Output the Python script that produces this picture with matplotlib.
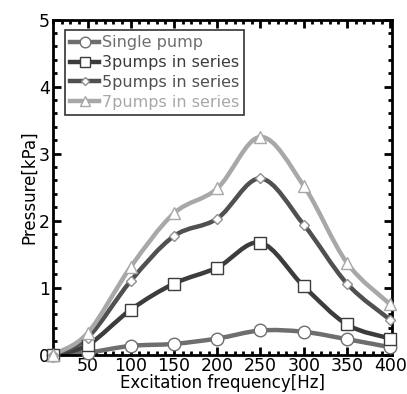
import numpy as np
import matplotlib
matplotlib.use("Agg")
import matplotlib.pyplot as plt
from matplotlib.path import Path
from matplotlib.patches import PathPatch
from matplotlib.lines import Line2D
from matplotlib.ticker import MultipleLocator

freq = [10, 50, 100, 150, 200, 250, 300, 350, 400]
single = [0.0, 0.03, 0.13, 0.16, 0.24, 0.36, 0.34, 0.23, 0.11]
p3 = [0.0, 0.14, 0.67, 1.06, 1.30, 1.67, 1.02, 0.45, 0.24]
p5 = [0.0, 0.25, 1.10, 1.77, 2.03, 2.63, 1.94, 1.06, 0.52]
p7 = [0.0, 0.32, 1.31, 2.11, 2.48, 3.25, 2.52, 1.37, 0.75]
labels = ["Single pump", "3pumps in series", "5pumps in series", "7pumps in series"]
colors = ["#6e6e6e", "#3c3c3c", "#505050", "#a8a8a8"]
markers = ["o", "s", "D", "^"]
msizes = [9, 9, 5, 9]
medges = ["#6e6e6e", "#3c3c3c", "#909090", "#a8a8a8"]

fig = plt.figure(figsize=(4.07, 3.94), dpi=100)
ax = fig.add_axes([0.13, 0.10, 0.833, 0.85])

def smooth_path(x, y):
    x = np.asarray(x, float); y = np.asarray(y, float)
    verts = [(x[0], y[0])]
    codes = [Path.MOVETO]
    n = len(x)
    for i in range(n - 1):
        x0, y0 = (x[i-1], y[i-1]) if i > 0 else (x[i], y[i])
        x3, y3 = (x[i+2], y[i+2]) if i + 2 < n else (x[i+1], y[i+1])
        c1 = (x[i] + (x[i+1] - x0) / 6, y[i] + (y[i+1] - y0) / 6)
        c2 = (x[i+1] - (x3 - x[i]) / 6, y[i+1] - (y3 - y[i]) / 6)
        verts += [c1, c2, (x[i+1], y[i+1])]
        codes += [Path.CURVE4] * 3
    return Path(verts, codes)

series = [single, p3, p5, p7]
handles = []
for s, c, m, ms, me, lab in zip(series, colors, markers, msizes, medges, labels):
    patch = PathPatch(smooth_path(freq, s), facecolor="none", edgecolor=c, lw=3.2, zorder=2, clip_on=False)
    ax.add_patch(patch)
    ax.plot(freq, s, ls="none", marker=m, ms=ms, mfc="white", mec=me, mew=1, zorder=3, clip_on=False)
    handles.append(Line2D([], [], color=c, lw=3.2, marker=m, ms=ms * 0.85, mfc="white", mec=me, mew=1))

ax.set_xlim(10, 402)
ax.set_ylim(0, 5)
ax.set_xticks([50, 100, 150, 200, 250, 300, 350, 400])
ax.set_yticks([0, 1, 2, 3, 4, 5])
ax.xaxis.set_minor_locator(MultipleLocator(10))
ax.yaxis.set_minor_locator(MultipleLocator(0.2))
ax.tick_params(which="both", direction="in", top=True, right=True, labelsize=12.5, width=2, pad=2)
ax.tick_params(which="major", length=6)
ax.tick_params(which="minor", length=3)
for sp in ax.spines.values():
    sp.set_linewidth(2)
ax.set_xlabel("Excitation frequency[Hz]", fontsize=12, labelpad=-1)
ax.set_ylabel("Pressure[kPa]", fontsize=12, labelpad=1)

leg = ax.legend(handles, labels, loc="upper left", bbox_to_anchor=(0.035, 0.97), fontsize=11.5,
                frameon=True, fancybox=False, handlelength=1.8, handletextpad=0.15,
                borderpad=0.35, labelspacing=0.3, borderaxespad=0)
leg.get_frame().set_edgecolor("black")
leg.get_frame().set_linewidth(1.2)
for t, c in zip(leg.get_texts(), colors):
    t.set_color(c)

fig.savefig("out.png", dpi=100)
